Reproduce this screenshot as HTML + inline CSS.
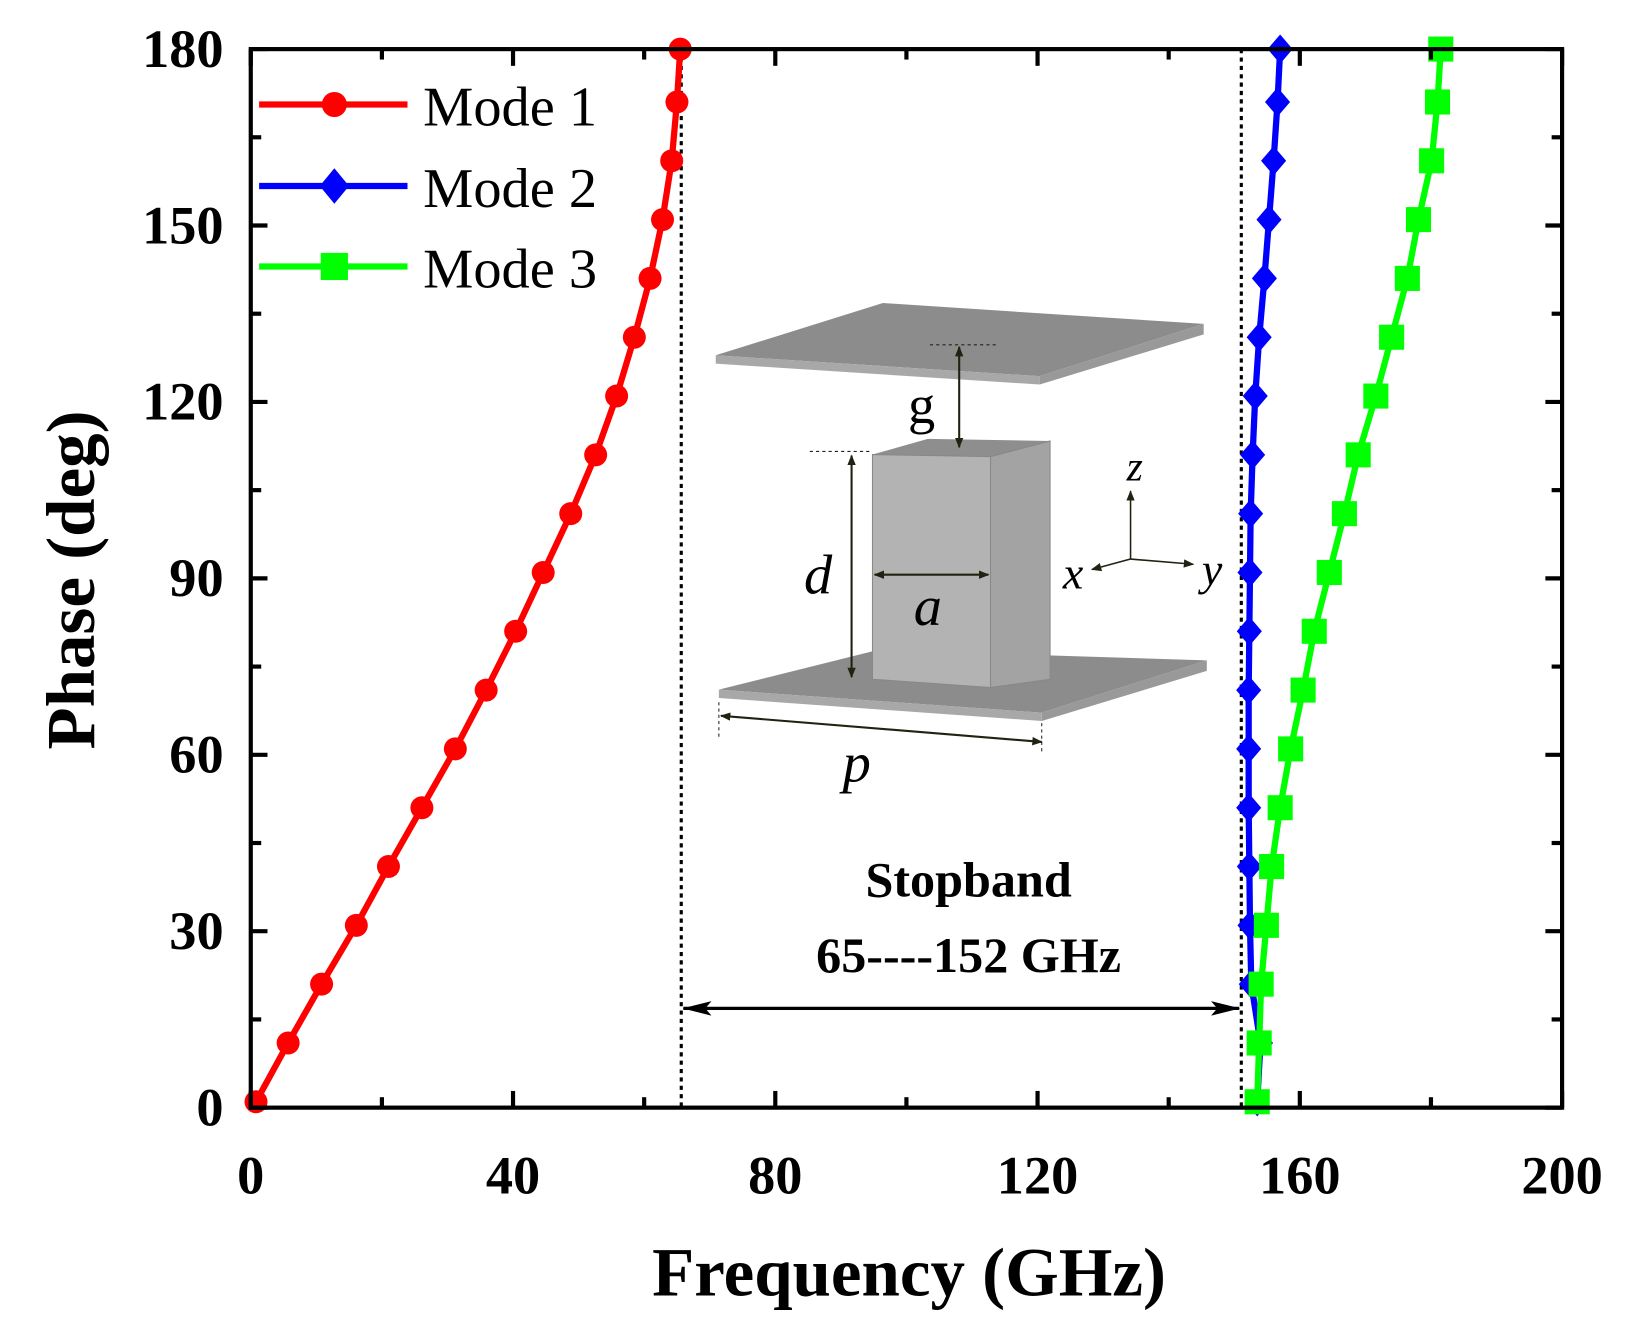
<!DOCTYPE html>
<html><head><meta charset="utf-8"><style>
html,body{margin:0;padding:0;background:#fff;}
svg{display:block;}
text{font-family:"Liberation Serif",serif;}
</style></head><body>
<svg id="s" width="1630" height="1325" viewBox="0 0 1560 1268" preserveAspectRatio="none" xmlns="http://www.w3.org/2000/svg">
<defs>
<marker id="ah" markerWidth="10" markerHeight="8" refX="9" refY="4" orient="auto-start-reverse" markerUnits="userSpaceOnUse"><path d="M0,0 L10,4 L0,8 z" fill="#221"/></marker>
<marker id="ah2" markerWidth="28" markerHeight="14" refX="27" refY="7" orient="auto-start-reverse" markerUnits="userSpaceOnUse"><path d="M0,0 L28,7 L0,14 L6,7 z" fill="#000"/></marker>
</defs>
<g>
<polygon points="685,340 845,290 1152,310 995,360" fill="#8c8c8c"/>
<polygon points="685,340 995,360 995,368 685,348" fill="#a8a8a8"/>
<polygon points="995,360 1152,310 1152,320 995,368" fill="#999"/>
<polygon points="688,660 840,622 1155,632 997,682" fill="#8c8c8c"/>
<polygon points="688,660 997,682 997,690 688,668" fill="#a8a8a8"/>
<polygon points="997,682 1155,632 1155,642 997,690" fill="#999"/>
<polygon points="835,435 888,420 1005,422 948,437" fill="#8e8e8e"/>
<polygon points="835,435 948,437 948,658 835,650" fill="#b3b3b3" stroke="#888" stroke-width="1"/>
<polygon points="948,437 1005,422 1005,650 948,658" fill="#a3a3a3" stroke="#888" stroke-width="1"/>
<line x1="890" y1="330" x2="955" y2="330" stroke="#222" stroke-dasharray="3,3"/>
<line x1="775" y1="432" x2="835" y2="432" stroke="#222" stroke-dasharray="3,3"/>
<line x1="918" y1="332" x2="918" y2="428" stroke="#221" stroke-width="2" marker-start="url(#ah)" marker-end="url(#ah)"/>
<line x1="815" y1="436" x2="815" y2="648" stroke="#221" stroke-width="2" marker-start="url(#ah)" marker-end="url(#ah)"/>
<line x1="837" y1="550" x2="946" y2="550" stroke="#221" stroke-width="2" marker-start="url(#ah)" marker-end="url(#ah)"/>
<line x1="690" y1="685" x2="997" y2="710" stroke="#221" stroke-width="2" marker-start="url(#ah)" marker-end="url(#ah)"/>
<line x1="688" y1="672" x2="688" y2="705" stroke="#222" stroke-dasharray="3,3"/>
<line x1="997" y1="692" x2="997" y2="720" stroke="#222" stroke-dasharray="3,3"/>
<line x1="1082" y1="535" x2="1082" y2="470" stroke="#221" stroke-width="1.5" marker-end="url(#ah)"/>
<line x1="1082" y1="535" x2="1045" y2="545" stroke="#221" stroke-width="1.5" marker-end="url(#ah)"/>
<line x1="1082" y1="535" x2="1142" y2="540" stroke="#221" stroke-width="1.5" marker-end="url(#ah)"/>
<text x="882" y="405" font-size="52" text-anchor="middle">g</text>
<text x="783" y="568" font-size="54" font-style="italic" text-anchor="middle">d</text>
<text x="888" y="598" font-size="54" font-style="italic" text-anchor="middle">a</text>
<text x="820" y="748" font-size="54" font-style="italic" text-anchor="middle">p</text>
<text x="1086" y="460" font-size="40" font-style="italic" text-anchor="middle">z</text>
<text x="1027" y="563" font-size="44" font-style="italic" text-anchor="middle">x</text>
<text x="1160" y="560" font-size="44" font-style="italic" text-anchor="middle">y</text>
</g>
<line x1="652" y1="47" x2="652" y2="1060" stroke="#000" stroke-width="3" stroke-dasharray="4,4"/>
<line x1="1188" y1="47" x2="1188" y2="1060" stroke="#000" stroke-width="3" stroke-dasharray="4,4"/>
<line x1="654" y1="965" x2="1186" y2="965" stroke="#000" stroke-width="3" marker-start="url(#ah2)" marker-end="url(#ah2)"/>
<text x="927" y="858" font-size="48" font-weight="bold" text-anchor="middle">Stopband</text>
<text x="927" y="930" font-size="48" font-weight="bold" text-anchor="middle">65----152 GHz</text>
<g id="series"></g>
<rect x="240" y="47" width="1255" height="1013" fill="none" stroke="#000" stroke-width="4"/>
<g id="ticks" stroke="#000" stroke-width="4"></g>
<g id="lab" font-size="52" font-weight="bold"></g>
<text x="870" y="1240" font-size="66" font-weight="bold" text-anchor="middle">Frequency (GHz)</text>
<text transform="translate(90,555) rotate(-90)" font-size="66" font-weight="bold" text-anchor="middle">Phase (deg)</text>
<line x1="248" y1="100" x2="390" y2="100" stroke="#f00" stroke-width="6"/>
<circle cx="320" cy="100" r="12" fill="#f00"/>
<text x="405" y="120" font-size="54">Mode 1</text>
<line x1="248" y1="178" x2="390" y2="178" stroke="#00f" stroke-width="6"/>
<polygon points="320,161 334,178 320,195 306,178" fill="#00f"/>
<text x="405" y="198" font-size="54">Mode 2</text>
<line x1="248" y1="255" x2="390" y2="255" stroke="#0f0" stroke-width="6"/>
<rect x="307" y="242" width="26" height="26" fill="#0f0"/>
<text x="405" y="275" font-size="54">Mode 3</text>
</svg>
<script>
var NS="http://www.w3.org/2000/svg";
function X(f){return 240+f*6.275;} function Y(p){return 1060-p*5.628;}
function el(t,a,par){var e=document.createElementNS(NS,t);for(var k in a)e.setAttribute(k,a[k]);(par||document.getElementById('series')).appendChild(e);return e;}
var ph=[1,11,21,31,41,51,61,71,81,91,101,111,121,131,141,151,161,171,180];
var m1=[0.8,5.7,10.8,16.1,21,26.1,31.2,35.9,40.4,44.6,48.8,52.6,55.8,58.5,60.9,62.8,64.2,65,65.5];
var m2=[153.5,154,152.6,152.4,152.3,152.2,152.2,152.2,152.3,152.4,152.5,152.8,153.2,153.8,154.6,155.3,156,156.6,157];
var m3=[153.5,153.8,154.1,154.9,155.7,157,158.6,160.5,162.2,164.5,166.8,168.9,171.6,174,176.4,178.1,180.1,181,181.5];
function series(arr,col,mk){var pts=arr.map(function(f,i){return X(f)+","+Y(ph[i]);}).join(" ");
el('polyline',{points:pts,fill:'none',stroke:col,'stroke-width':6});
arr.forEach(function(f,i){var x=X(f),y=Y(ph[i]);
if(mk=='c')el('circle',{cx:x,cy:y,r:11,fill:col});
else if(mk=='d')el('polygon',{points:(x)+","+(y-14)+" "+(x+12)+","+y+" "+x+","+(y+14)+" "+(x-12)+","+y,fill:col});
else el('rect',{x:x-12,y:y-12,width:24,height:24,fill:col});});}
series(m1,'#f00','c');series(m2,'#00f','d');series(m3,'#0f0','s');
var tk=document.getElementById('ticks'),lb=document.getElementById('lab');
for(var f=0;f<=200;f+=20){var x=X(f),L=(f%40==0)?16:10;
el('line',{x1:x,y1:1060,x2:x,y2:1060-L},tk);el('line',{x1:x,y1:47,x2:x,y2:47+L},tk);
if(f%40==0){var t=el('text',{x:x,y:1142,'text-anchor':'middle'},lb);t.textContent=f;}}
for(var p=0;p<=180;p+=15){var y=Y(p),L=(p%30==0)?16:10;
el('line',{x1:240,y1:y,x2:240+L,y2:y},tk);el('line',{x1:1495,y1:y,x2:1495-L,y2:y},tk);
if(p%30==0){var t=el('text',{x:214,y:y+17,'text-anchor':'end'},lb);t.textContent=p;}}
</script>
</body></html>
